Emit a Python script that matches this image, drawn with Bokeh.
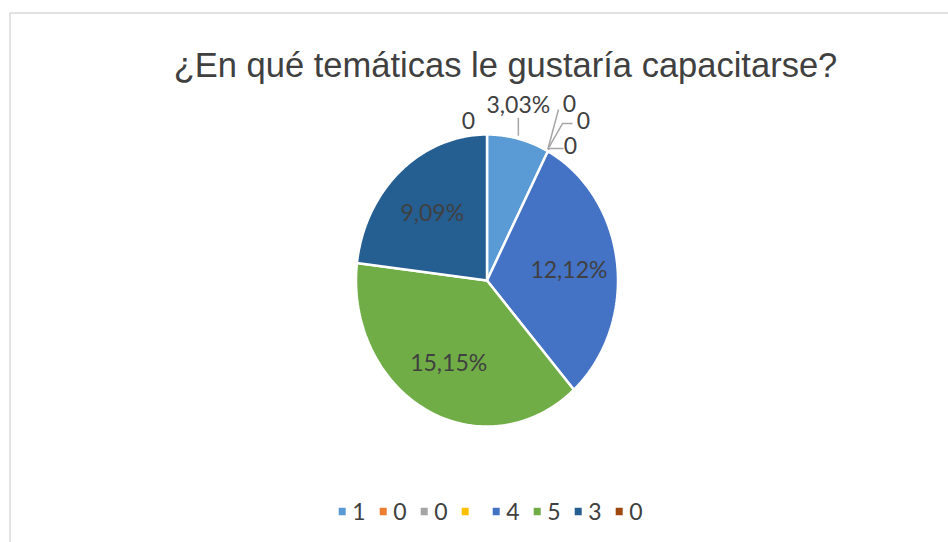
import numpy as np
from bokeh.plotting import figure
from bokeh.models import Range1d
from bokeh.core.properties import value
from bokeh.embed import file_html
from bokeh.resources import INLINE

# ---------------- data ----------------
title = "¿En qué temáticas le gustaría capacitarse?"
counts = [1, 0, 0, 0, 4, 5, 3, 0]
pct_labels = ["3,03%", "0", "0", "0", "12,12%", "15,15%", "9,09%", "0"]
legend_labels = ["1", "0", "0", "", "4", "5", "3", "0"]
colors = ["#5B9BD5", "#ED7D31", "#A5A5A5", "#FFC000",
          "#4472C4", "#70AD47", "#255E91", "#9E480E"]

# ---------------- layout ----------------
W, H = 948, 542
cx, cy, rx, ry = 486.5, 280.0, 131.0, 146.0
inner_frac = 0.63
# outside label offsets (from slice anchor on the rim), keyed by slice index
outer_offsets = {0: (0, -35), 1: (21.6, -47.7), 2: (35.6, -30.7),
                 3: (22.6, -5.7), 7: (-18.5, -14)}
# leader polylines relative to label centre (points after the rim anchor)
leaders = {0: [(0, 14)], 1: [(-11, 6)], 2: [(-21, 3), (-11, 3)], 3: [(-20, 3), (-7, 3)]}

p = figure(width=W, height=H, x_range=Range1d(0, W), y_range=Range1d(H, 0),
           output_backend="svg", toolbar_location=None, min_border=0,
           x_axis_location=None, y_axis_location=None)
p.grid.visible = False
p.outline_line_color = None
p.background_fill_color = "white"
p.border_fill_color = "white"

# chart border (cropped on right and bottom)
p.quad(left=[9.5], right=[1200], top=[12.5], bottom=[800], fill_color=None,
       line_color="#D9D9D9", line_width=1.5)

# title
p.text(x=[505], y=[64.5], text=[title], text_align="center", text_baseline="alphabetic",
       text_font=value("Liberation Sans"), text_font_size="34.5px", text_color="#404040")

# pie slices (ellipse, clockwise from top)
total = float(sum(counts))
cum = np.concatenate([[0.0], np.cumsum(counts)]) / total * 2 * np.pi
xs, ys, fc = [], [], []
for i, c in enumerate(counts):
    if c <= 0:
        continue
    t = np.linspace(cum[i], cum[i + 1], 120)
    xs.append([cx] + list(cx + rx * np.sin(t)))
    ys.append([cy] + list(cy - ry * np.cos(t)))
    fc.append(colors[i])
p.patches(xs, ys, fill_color=fc, line_color="white", line_width=2.5)

# labels
in_x, in_y, in_t = [], [], []
out_x, out_y, out_t = [], [], []
lx, ly = [], []
for i, c in enumerate(counts):
    mid = (cum[i] + cum[i + 1]) / 2
    ax, ay = cx + rx * np.sin(mid), cy - ry * np.cos(mid)
    if i in outer_offsets:
        ox, oy = outer_offsets[i]
        px_, py_ = ax + ox, ay + oy
        out_x.append(px_); out_y.append(py_); out_t.append(pct_labels[i])
        if i in leaders:
            pts = [(ax, ay - (3 if i == 0 else 2))] + [(px_ + dx, py_ + dy) for dx, dy in leaders[i]]
            lx.append([q[0] for q in pts]); ly.append([q[1] for q in pts])
    else:
        in_x.append(cx + inner_frac * (ax - cx)); in_y.append(cy + inner_frac * (ay - cy))
        in_t.append(pct_labels[i])

p.multi_line(lx, ly, line_color="#A6A6A6", line_width=1.5)
for X, Y, T in ((in_x, in_y, in_t), (out_x, out_y, out_t)):
    p.text(x=X, y=Y, text=T, text_align="center", text_baseline="middle",
           text_font=value("Lato"), text_font_size="23px", text_color="#404040")

# legend (manual, horizontal)
leg_x, x = [], 341.7
for lab in legend_labels:
    leg_x.append(x)
    x += 41 if lab else 31
leg_y = [511] * len(legend_labels)
p.rect(x=leg_x, y=leg_y, width=7, height=7.5, fill_color=colors, line_color=None)
p.text(x=[v + 10 for v in leg_x], y=leg_y, text=legend_labels, text_align="left",
       text_baseline="middle", text_font=value("Lato"), text_font_size="23px",
       text_color="#404040")

open("out.html", "w").write(file_html(p, INLINE))
